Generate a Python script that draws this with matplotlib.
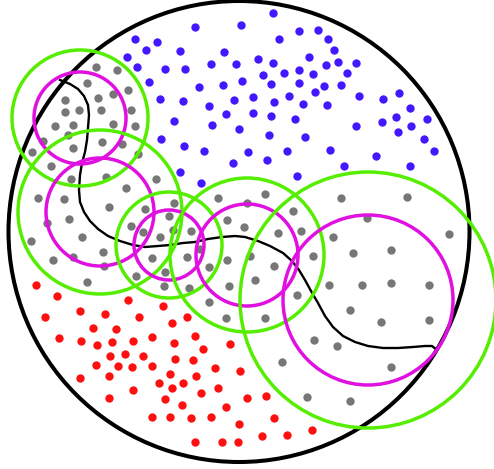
import numpy as np
from matplotlib import pyplot as plt
from matplotlib.patches import Circle

# point clouds (pixel units, y downwards)
blue_x = [195, 241, 135, 157, 146, 180, 224, 127, 137, 165, 185, 211, 236, 149, 199, 223, 242, 160,
          183, 209, 234, 226, 174, 212, 239, 161, 184, 204, 248, 273, 279, 299, 318, 328, 334, 258,
          273, 309, 338, 356, 284, 299, 313, 326, 347, 263, 271, 299, 324, 341, 315, 253, 289, 274,
          303, 327, 359, 383, 399, 410, 253, 271, 295, 396, 382, 411, 427, 356, 398, 424, 434, 269,
          305, 287, 330, 376, 267, 344, 410, 297, 233, 180, 201]
blue_y = [27, 25, 39, 42, 50, 51, 52, 57, 67, 69, 69, 64, 64, 82, 87, 85, 81, 99,
          101, 106, 100, 114, 121, 125, 129, 139, 146, 151, 152, 13, 39, 31, 30, 39, 50, 59,
          63, 57, 62, 63, 73, 70, 74, 65, 73, 75, 84, 83, 86, 85, 92, 97, 96, 102,
          104, 105, 96, 99, 93, 108, 113, 116, 119, 117, 122, 126, 119, 126, 132, 139, 151, 135,
          137, 151, 150, 156, 160, 166, 166, 176, 163, 172, 183]

gray_x = [96, 117, 87, 128, 65, 98, 113, 65, 79, 101, 131, 55, 73, 113, 135, 43, 68, 102, 122, 32,
          73, 138, 51, 71, 106, 126, 156, 38, 64, 109, 145, 174, 47, 69, 131, 169, 31, 82, 143, 160,
          173, 191, 218, 227, 244, 103, 53, 73, 104, 152, 187, 200, 136, 165, 209, 227, 87, 164, 189,
          229, 209, 265, 247, 341, 407, 293, 367, 278, 301, 333, 449, 250, 274, 313, 353, 391, 255,
          329, 362, 391, 429, 297, 350, 265, 381, 429, 314, 337, 282, 391, 307, 350, 226]
gray_y = [67, 70, 83, 90, 100, 98, 94, 112, 110, 110, 110, 126, 125, 124, 126, 141, 135, 142, 144, 152,
          148, 154, 166, 179, 177, 188, 179, 198, 199, 207, 209, 203, 223, 219, 226, 216, 241, 237, 232, 237,
          230, 231, 198, 220, 227, 252, 260, 257, 266, 258, 257, 249, 276, 272, 267, 260, 282, 286, 288,
          286, 302, 194, 203, 198, 197, 211, 218, 233, 231, 237, 234, 256, 266, 256, 253, 250, 280,
          285, 285, 283, 285, 295, 310, 318, 322, 320, 340, 346, 362, 367, 397, 401, 318]

red_x = [36, 57, 128, 163, 45, 80, 105, 139, 172, 187, 93, 116, 59, 81, 97, 112, 133, 152, 174, 195,
         203, 230, 110, 125, 143, 96, 118, 132, 152, 175, 193, 215, 240, 80, 109, 159, 170, 183, 172, 196,
         201, 218, 133, 109, 165, 182, 226, 247, 152, 170, 191, 211, 239, 195, 222, 238, 266, 274, 262,
         287, 312]
red_y = [285, 296, 300, 306, 317, 311, 314, 317, 323, 317, 328, 329, 338, 341, 345, 342, 341, 337, 343, 336,
         349, 344, 356, 354, 356, 365, 366, 367, 366, 359, 360, 368, 371, 378, 376, 383, 374, 383, 388, 376,
         393, 388, 390, 398, 399, 405, 407, 398, 417, 417, 418, 417, 424, 442, 442, 442, 396, 418, 436,
         435, 430]

# wavy boundary line
curve_x = [60, 70, 78, 84, 88, 89, 88, 87, 85, 82, 80, 79, 80, 84, 90, 98, 108, 120, 133, 145, 158,
           170, 183, 195, 208, 222, 235, 245, 258, 270, 283, 292, 299, 305, 311, 318, 325, 333, 343,
           355, 368, 383, 398, 413, 425, 432, 437]
curve_y = [80, 84, 89, 96, 105, 115, 128, 140, 152, 163, 175, 190, 202, 212, 221, 229, 236, 241, 245,
           247, 246, 245, 243, 242, 239, 237, 236, 237, 241, 246, 253, 261, 270, 280, 291, 303, 316, 327,
           336, 342, 346, 348, 348, 347, 346, 346, 350]

# concentric circle pairs
ring_cx = [80, 100, 169, 247, 368]
ring_cy = [118, 212, 245, 255, 300]
inner_r = [46, 54, 35, 51, 85]
outer_r = [68, 82, 53, 77, 128]

# outer boundary
big_cx, big_cy, big_r = 239, 231.5, 230.5

W, H = 494, 469
fig = plt.figure(figsize=(W / 100, H / 100), dpi=100)
ax = fig.add_axes([0, 0, 1, 1])
ax.set_xlim(0, W)
ax.set_ylim(H, 0)
ax.set_aspect('equal')
ax.axis('off')

ax.add_patch(Circle((big_cx, big_cy), big_r, fill=False, edgecolor='black', linewidth=2.9, zorder=1))

ax.scatter(blue_x, blue_y, s=36, color='#4418ff', linewidths=0, zorder=2)
ax.scatter(gray_x, gray_y, s=36, color='#777777', linewidths=0, zorder=2)
ax.scatter(red_x, red_y, s=36, color='#ff1010', linewidths=0, zorder=2)

ax.plot(curve_x, curve_y, color='black', linewidth=1.7, zorder=3)

for cx, cy, r_in, r_out in zip(ring_cx, ring_cy, inner_r, outer_r):
    ax.add_patch(Circle((cx, cy), r_out, fill=False, edgecolor='#55ee00', linewidth=2.5, zorder=4))
    ax.add_patch(Circle((cx, cy), r_in, fill=False, edgecolor='#e010e0', linewidth=2.5, zorder=4))

fig.savefig('out.png', dpi=100)
